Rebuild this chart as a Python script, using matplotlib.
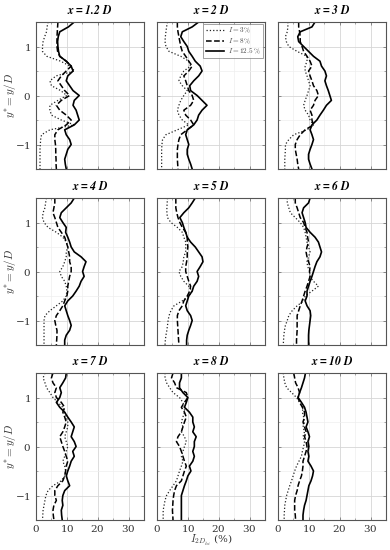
import numpy as np
import matplotlib
matplotlib.use("Agg")
import matplotlib.pyplot as plt
from matplotlib.ticker import MultipleLocator

plt.rcParams['mathtext.fontset'] = 'cm'
plt.rcParams['font.family'] = 'serif'
plt.rcParams['font.serif'] = ['DejaVu Serif']
plt.rcParams['axes.formatter.use_mathtext'] = True

# y* grid (top to bottom)
y_star = np.linspace(1.5, -1.5, 31)

positions = ['1.2', '2', '3', '4', '5', '6', '7', '8', '10']
turb_labels = ['3', '8', '12.5']

# I_2D values (%) for I = 3 %, 8 %, 12.5 % at each streamwise position
I3 = [
    [3.9, 3.6, 3.4, 2.8, 2.3, 2.1, 2.1, 3.5, 8.0, 11.0, 12.5, 6.5, 4.5, 5.0, 8.0, 10.0, 7.1, 4.5, 4.5, 5.0, 8.2, 12.4, 4.5, 1.8, 1.5, 1.4, 1.3, 1.3, 1.3, 1.3, 1.3],
    [3.4, 3.1, 2.9, 2.7, 2.6, 2.9, 3.9, 7.7, 10.3, 10.9, 8.7, 7.7, 7.1, 8.2, 9.8, 8.7, 7.7, 7.1, 6.6, 7.1, 8.2, 10.3, 6.6, 2.9, 1.8, 1.6, 1.5, 1.5, 1.5, 1.5, 1.5],
    [3.2, 3.2, 3.0, 2.4, 2.7, 3.5, 6.2, 9.4, 9.4, 8.8, 8.8, 9.4, 9.9, 10.4, 9.9, 9.4, 8.8, 8.3, 8.8, 9.9, 10.4, 11.5, 9.4, 5.1, 3.5, 2.4, 2.4, 2.3, 2.2, 2.2, 2.2],
    [3.4, 3.1, 2.9, 2.3, 2.1, 2.6, 3.9, 6.6, 8.7, 9.8, 10.3, 9.8, 9.8, 9.3, 8.7, 7.7, 8.2, 9.3, 9.8, 10.0, 9.8, 8.7, 6.6, 4.5, 2.9, 2.6, 2.6, 2.6, 2.6, 2.6, 2.6],
    [3.4, 3.3, 3.2, 3.2, 3.4, 4.5, 6.6, 8.2, 8.7, 9.3, 9.3, 9.3, 8.7, 8.5, 8.2, 7.1, 7.7, 8.7, 10.3, 11.4, 10.3, 8.2, 5.5, 4.5, 3.9, 3.6, 3.4, 3.2, 2.9, 2.7, 2.6],
    [3.0, 3.0, 3.5, 4.0, 5.6, 7.2, 8.3, 8.8, 9.1, 9.4, 9.9, 10.4, 9.9, 9.4, 9.6, 10.4, 10.2, 11.5, 13.1, 11.0, 8.8, 8.3, 6.2, 4.6, 3.5, 3.0, 2.4, 2.1, 1.9, 1.8, 1.7],
    [2.9, 2.3, 2.9, 3.4, 4.5, 5.5, 7.1, 8.7, 9.3, 9.8, 10.3, 10.3, 9.8, 9.3, 9.8, 10.3, 9.8, 9.3, 8.7, 9.3, 9.6, 9.3, 8.2, 5.5, 3.9, 3.2, 2.9, 2.6, 2.3, 2.2, 2.1],
    [2.6, 2.6, 3.1, 4.1, 5.2, 7.3, 8.4, 8.9, 8.9, 8.4, 7.9, 8.4, 7.9, 8.9, 9.5, 8.9, 8.4, 7.9, 8.4, 7.9, 7.3, 6.8, 6.3, 5.2, 4.1, 3.1, 2.6, 2.3, 2.0, 2.0, 2.0],
    [1.7, 1.9, 2.2, 2.8, 4.4, 6.0, 7.0, 8.1, 7.9, 8.3, 8.6, 8.1, 8.6, 8.1, 8.6, 8.3, 7.9, 7.6, 6.8, 6.0, 5.4, 4.9, 4.4, 3.8, 3.3, 2.8, 2.5, 2.2, 2.1, 2.0, 2.0],
]
I8 = [
    [7.1, 7.0, 6.9, 6.8, 6.8, 6.8, 7.0, 7.7, 9.8, 11.4, 9.8, 8.2, 7.1, 8.2, 9.3, 10.9, 8.2, 6.6, 7.7, 9.8, 11.4, 9.8, 7.1, 6.1, 6.1, 6.3, 6.4, 6.4, 6.5, 6.5, 6.6],
    [6.6, 6.6, 6.8, 7.1, 7.4, 7.7, 8.2, 9.3, 10.3, 11.4, 10.3, 8.7, 9.3, 9.8, 10.3, 11.4, 11.9, 10.9, 8.7, 9.3, 10.9, 11.9, 9.8, 7.7, 7.1, 6.8, 6.6, 6.6, 6.6, 6.7, 6.8],
    [6.7, 6.7, 7.0, 7.2, 7.2, 7.8, 8.3, 9.4, 10.4, 11.0, 9.9, 10.4, 11.0, 11.5, 12.6, 13.1, 12.0, 11.5, 10.4, 11.0, 11.0, 11.5, 8.8, 7.2, 6.2, 5.6, 5.6, 5.9, 6.2, 6.4, 6.7],
    [6.1, 6.1, 5.8, 5.5, 6.1, 6.6, 7.1, 8.2, 9.3, 9.8, 10.3, 10.6, 10.9, 10.9, 11.4, 11.4, 10.9, 10.6, 10.3, 10.3, 10.0, 9.3, 8.7, 7.7, 6.6, 6.1, 6.4, 6.8, 6.8, 6.7, 6.6],
    [6.1, 6.1, 6.1, 6.4, 6.8, 7.4, 8.2, 9.3, 9.8, 9.8, 10.0, 9.8, 9.8, 9.6, 9.3, 9.3, 9.8, 10.3, 10.9, 10.6, 9.8, 8.7, 8.2, 7.1, 6.6, 6.6, 6.7, 6.8, 6.9, 7.0, 7.1],
    [5.6, 5.6, 6.2, 6.7, 7.2, 8.3, 8.8, 9.4, 9.6, 9.9, 9.4, 9.1, 9.4, 9.9, 10.4, 10.2, 10.4, 9.9, 9.4, 8.8, 8.3, 7.8, 7.2, 6.7, 6.2, 6.2, 6.2, 6.2, 6.1, 6.0, 6.0],
    [5.5, 5.0, 5.5, 6.6, 6.1, 6.6, 8.2, 9.3, 8.7, 9.3, 9.8, 9.3, 8.7, 7.7, 8.2, 8.7, 9.3, 9.8, 10.3, 9.8, 9.6, 9.3, 8.7, 7.1, 6.1, 6.1, 6.6, 5.8, 5.5, 5.6, 5.8],
    [5.2, 4.7, 5.7, 6.3, 9.5, 10.0, 8.9, 7.9, 8.9, 9.5, 8.9, 8.4, 7.9, 6.8, 6.3, 7.3, 7.9, 8.4, 8.9, 9.5, 8.9, 8.4, 7.9, 6.3, 5.7, 5.4, 5.2, 5.1, 5.0, 5.1, 5.2],
    [5.1, 5.4, 5.7, 6.5, 7.0, 6.5, 7.0, 7.9, 8.6, 8.6, 8.1, 8.6, 9.1, 8.6, 9.1, 9.4, 9.1, 8.6, 8.1, 8.1, 7.9, 7.6, 7.0, 6.5, 6.2, 5.7, 5.4, 5.4, 5.4, 5.6, 5.7],
]
I125 = [
    [12.4, 10.5, 7.7, 7.2, 7.0, 7.1, 7.3, 7.7, 9.8, 11.4, 12.0, 10.3, 9.8, 10.9, 12.0, 14.0, 12.4, 12.0, 13.0, 13.5, 14.0, 12.4, 9.3, 9.8, 10.9, 11.4, 10.3, 9.8, 9.3, 9.5, 9.8],
    [13.5, 11.4, 8.2, 7.7, 8.7, 9.8, 10.3, 11.4, 12.4, 14.0, 14.6, 13.5, 11.9, 10.6, 10.9, 13.0, 14.6, 16.2, 14.6, 13.5, 13.0, 11.9, 9.8, 9.3, 9.8, 10.3, 9.8, 9.8, 10.3, 10.9, 11.4],
    [12.0, 11.0, 7.2, 6.4, 6.7, 8.3, 9.9, 11.5, 13.6, 14.1, 15.2, 15.7, 15.2, 15.7, 16.3, 16.8, 17.3, 15.7, 14.7, 13.6, 12.6, 11.0, 10.4, 11.0, 11.5, 11.0, 10.4, 9.9, 9.9, 10.4, 11.0],
    [12.4, 11.4, 9.8, 8.2, 7.7, 8.7, 9.8, 9.6, 10.3, 10.9, 11.4, 12.4, 14.6, 16.2, 15.6, 15.1, 15.6, 14.6, 14.0, 13.0, 11.9, 10.3, 9.3, 9.8, 10.3, 10.9, 11.4, 10.9, 9.8, 9.3, 9.3],
    [12.4, 11.4, 10.3, 8.7, 7.4, 8.2, 8.7, 9.3, 9.8, 10.9, 12.4, 13.5, 14.6, 14.9, 14.0, 13.0, 13.5, 13.0, 11.9, 11.4, 10.3, 9.8, 9.3, 9.8, 10.9, 11.4, 10.9, 10.3, 9.8, 9.6, 9.6],
    [10.4, 9.9, 8.3, 7.8, 8.3, 8.8, 9.1, 10.4, 12.0, 13.1, 13.6, 14.1, 13.6, 12.6, 12.0, 11.5, 11.0, 10.4, 9.9, 9.4, 9.4, 8.8, 9.4, 10.4, 10.6, 10.4, 10.2, 10.0, 9.9, 9.9, 9.9],
    [9.8, 9.6, 8.7, 7.7, 8.2, 7.7, 6.6, 7.7, 9.3, 10.3, 11.4, 12.4, 11.9, 11.4, 12.4, 13.0, 11.9, 12.4, 11.4, 10.9, 10.3, 9.8, 10.3, 10.9, 9.3, 8.7, 8.5, 8.7, 8.2, 8.3, 8.5],
    [7.9, 7.9, 7.3, 7.3, 8.4, 10.0, 9.5, 8.9, 10.5, 11.6, 11.6, 12.1, 11.6, 12.7, 12.1, 12.1, 11.6, 12.1, 11.6, 10.5, 11.0, 10.0, 9.5, 8.9, 8.4, 7.9, 7.9, 7.9, 7.9, 7.9, 7.9],
    [8.9, 8.6, 8.1, 7.6, 7.0, 6.5, 7.6, 8.6, 9.1, 9.4, 9.7, 9.1, 9.7, 10.2, 9.7, 10.0, 9.7, 10.0, 9.7, 10.7, 11.5, 11.2, 10.7, 10.0, 9.7, 9.4, 9.1, 8.6, 8.3, 8.1, 8.1],
]

fig = plt.figure(figsize=(3.9, 5.5), dpi=100)
lefts = [36 / 390, 157 / 390, 278 / 390]
bottoms = [1 - 169 / 550, 1 - 345 / 550, 1 - 520 / 550]
w = 108 / 390
h = 147 / 550

styles = [dict(ls=':', lw=0.9, color='#222222'),
          dict(ls='--', lw=1.1, color='black'),
          dict(ls='-', lw=1.2, color='black')]

for k in range(9):
    r, c = divmod(k, 3)
    ax = fig.add_axes([lefts[c], bottoms[r], w, h])
    for s, data in enumerate([I3, I8, I125]):
        ax.plot(data[k], y_star, label=r'$I = %s\,\%%$' % turb_labels[s], **styles[s])
    ax.set_xlim(0, 35)
    ax.set_ylim(-1.5, 1.5)
    ax.xaxis.set_major_locator(MultipleLocator(10))
    ax.xaxis.set_minor_locator(MultipleLocator(5))
    ax.yaxis.set_major_locator(MultipleLocator(1))
    ax.yaxis.set_minor_locator(MultipleLocator(0.5))
    ax.grid(True, which='major', color='#d6d6d6', lw=0.6)
    ax.grid(True, which='minor', color='#eeeeee', lw=0.5)
    ax.set_axisbelow(True)
    for sp in ax.spines.values():
        sp.set_color('#555555')
        sp.set_linewidth(0.8)
    ax.tick_params(which='both', direction='in', colors='#666666', labelcolor='#333333',
                   labelsize=7.5, top=True, right=True)
    ax.tick_params(which='major', length=2.5, width=0.5)
    ax.tick_params(which='minor', length=1.5, width=0.4)
    ax.tick_params(axis='x', pad=2)
    if r != 2:
        ax.tick_params(labelbottom=False)
    if c != 0:
        ax.tick_params(labelleft=False)
    else:
        ax.set_ylabel(r'$y^{*} = y/D$', fontsize=8, color='#333333')
        ax.yaxis.set_label_coords(-0.165, 0.5)
    ax.set_title(r'$\mathbfit{x = %s\ D}$' % positions[k], fontsize=8.5, pad=6)
    if k == 1:
        leg = ax.legend(loc='upper right', fontsize=5.2, frameon=True, fancybox=False,
                        edgecolor='#777777', handlelength=2.6, borderpad=0.3,
                        labelspacing=0.15, handletextpad=0.5, borderaxespad=0.3)
        leg.get_frame().set_linewidth(0.6)
        for t in leg.get_texts():
            t.set_color('#444444')
    if k == 7:
        ax.set_xlabel(r'$I_{2D_{hi}}$ (%)', fontsize=7.5, color='#333333')
        ax.xaxis.set_label_coords(0.5, -0.085)

fig.savefig('out.png', dpi=100)
